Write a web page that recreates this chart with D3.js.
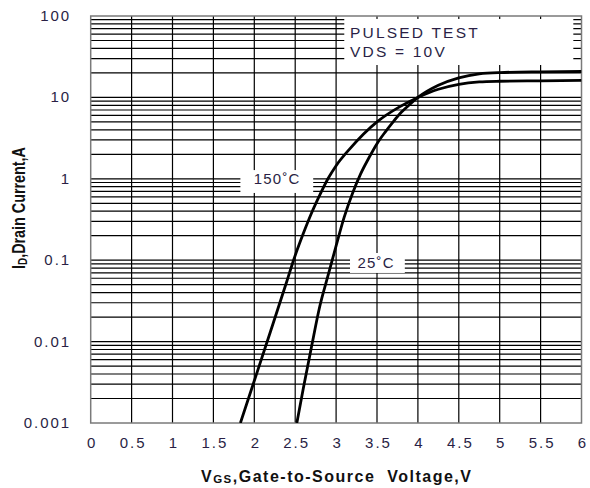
<!DOCTYPE html>
<html>
<head>
<meta charset="utf-8">
<script src="https://cdn.jsdelivr.net/npm/d3@7"></script>
<style>
  html, body { margin: 0; padding: 0; background: #fff; }
  svg { display: block; }
  text { font-family: "Liberation Sans", Arial, Helvetica, sans-serif; }
</style>
</head>
<body>
<svg id="chart" width="590" height="488"></svg>
<script>
// Transfer characteristics: drain current vs gate-source voltage
const vgsTicks = [0, 0.5, 1, 1.5, 2, 2.5, 3, 3.5, 4, 4.5, 5, 5.5, 6];
const vgsTickLabels = ["0", "0.5", "1", "1.5", "2", "2.5", "3", "3.5", "4", "4.5", "5", "5.5", "6"];
const idTicks = [100, 10, 1, 0.1, 0.01, 0.001];
const idTickLabels = ["100", "10", "1", "0.1", "0.01", "0.001"];

// Tj = 150 °C
const vgs150 = [1.83, 2.0, 2.2, 2.4, 2.48, 2.6, 2.7, 2.8, 2.9, 3.0, 3.17, 3.5, 3.78, 4.0, 4.25, 4.5, 4.75, 5.0, 5.5, 6.0];
const id150  = [0.001, 0.0033, 0.0135, 0.056, 0.1, 0.214, 0.38, 0.63, 1.0, 1.45, 2.35, 5.0, 7.7, 10.0, 12.6, 14.5, 15.5, 15.8, 16.0, 16.2];

// Tj = 25 °C
const vgs25 = [2.52, 2.6, 2.7, 2.8, 2.9, 3.0, 3.1, 3.2, 3.3, 3.4, 3.5, 3.6, 3.7, 3.8, 3.9, 4.0, 4.25, 4.5, 4.75, 5.0, 5.5, 6.0];
const id25  = [0.001, 0.0027, 0.0087, 0.027, 0.064, 0.15, 0.34, 0.66, 1.15, 1.8, 2.7, 3.75, 5.05, 6.6, 8.2, 10.0, 14.1, 17.4, 19.5, 20.2, 20.6, 20.8];

const curveNames = ["150˚C", "25˚C"];
const noteLines = ["PULSED TEST", "VDS =  10V"];

const svg = d3.select("#chart");
const plotL = 90.7, plotR = 581.5, plotT = 16, plotB = 423;

const x = d3.scaleLinear().domain([0, 6]).range([plotL, plotR]);
const y = d3.scaleLog().domain([0.001, 100]).range([plotB, plotT]);

const textColor = "#2a1f45";

// grid
const grid = svg.append("g").attr("stroke", "#000").attr("stroke-width", 1.2);
const vLines = vgsTicks.filter(v => v > 0 && v < 6);
grid.selectAll("line.v").data(vLines).join("line")
  .attr("x1", d => x(d)).attr("x2", d => x(d))
  .attr("y1", plotT).attr("y2", plotB);

const hLines = [];
[0.001, 0.01, 0.1, 1, 10].forEach(dec => {
  for (let k = 1; k <= 9; k++) {
    const v = dec * k;
    if (v > 0.001 + 1e-9) hLines.push(v);
  }
});
grid.selectAll("line.h").data(hLines).join("line")
  .attr("x1", plotL).attr("x2", plotR)
  .attr("y1", d => y(d)).attr("y2", d => y(d));

// white label backgrounds
const bg = svg.append("g").attr("fill", "#fff");
bg.append("rect")
  .attr("x", x(3.1)).attr("y", y(92))
  .attr("width", x(5.9) - x(3.1)).attr("height", y(25) - y(92));
bg.append("rect")
  .attr("x", x(1.83)).attr("y", y(1.28))
  .attr("width", x(2.72) - x(1.83)).attr("height", y(0.67) - y(1.28));
bg.append("rect")
  .attr("x", x(3.17)).attr("y", y(0.1226))
  .attr("width", x(3.84) - x(3.17)).attr("height", y(0.0697) - y(0.1226));

// frame
svg.append("rect")
  .attr("x", plotL).attr("y", plotT)
  .attr("width", plotR - plotL).attr("height", plotB - plotT)
  .attr("fill", "none").attr("stroke", "#7a7a7a").attr("stroke-width", 1.5);

// curves
svg.append("clipPath").attr("id", "plot")
  .append("rect").attr("x", plotL).attr("y", plotT)
  .attr("width", plotR - plotL).attr("height", plotB - plotT);

const line = d3.line()
  .x(d => x(d[0])).y(d => y(d[1]))
  .curve(d3.curveMonotoneX);

const series = [d3.zip(vgs150, id150), d3.zip(vgs25, id25)];
svg.append("g").attr("clip-path", "url(#plot)")
  .selectAll("path").data(series).join("path")
  .attr("d", line)
  .attr("fill", "none").attr("stroke", "#000")
  .attr("stroke-width", 2.8).attr("stroke-linejoin", "round");

// axes
const yAxis = d3.axisLeft(y).tickValues(idTicks)
  .tickFormat((d, i) => idTickLabels[i]).tickSize(0).tickPadding(19.5);
const gy = svg.append("g").attr("transform", `translate(${plotL},0)`).call(yAxis);
gy.select(".domain").remove();
gy.selectAll("text").attr("font-size", 15).attr("letter-spacing", "2px")
  .attr("fill", textColor).attr("dy", "0.3em")
  .attr("font-family", "'Liberation Sans', Arial, sans-serif");

const xAxis = d3.axisBottom(x).tickValues(vgsTicks)
  .tickFormat((d, i) => vgsTickLabels[i]).tickSize(0).tickPadding(14.5);
const gx = svg.append("g").attr("transform", `translate(0,${plotB})`).call(xAxis);
gx.select(".domain").remove();
gx.selectAll("text").attr("font-size", 15).attr("letter-spacing", "2px")
  .attr("fill", textColor).attr("dx", "1px")
  .attr("font-family", "'Liberation Sans', Arial, sans-serif");

// note text
const note = svg.append("g").attr("fill", textColor).attr("font-size", 15.5).attr("letter-spacing", "2.2px");
note.append("text").attr("x", x(3.17)).attr("y", 37.5).text(noteLines[0]);
note.append("text").attr("x", x(3.17)).attr("y", 56.5).text(noteLines[1]);

// curve labels
const lbl = svg.append("g").attr("fill", textColor).attr("font-size", 15)
  .attr("letter-spacing", "1.2px").attr("text-anchor", "middle").attr("dominant-baseline", "central");
lbl.append("text").attr("x", x(2.28)).attr("y", y(1)).text(curveNames[0]);
lbl.append("text").attr("x", x(3.49)).attr("y", y(0.095)).text(curveNames[1]);

// axis titles
const xt = svg.append("text")
  .attr("x", 201).attr("y", 481.5)
  .attr("font-size", 16).attr("font-weight", "bold").attr("letter-spacing", "1.5px")
  .attr("fill", "#111");
xt.append("tspan").text("V");
xt.append("tspan").attr("font-size", 11.5).attr("dy", 1).text("GS");
xt.append("tspan").attr("dy", -1).text(",Gate-to-Source\u00a0\u00a0Voltage,V");

const yt = svg.append("text")
  .attr("transform", "translate(25,208) rotate(-90) scale(0.82,1)")
  .attr("text-anchor", "middle")
  .attr("font-size", 17.5).attr("font-weight", "bold")
  .attr("fill", "#111");
yt.append("tspan").text("I");
yt.append("tspan").attr("font-size", 12).attr("dy", 2).text("D");
yt.append("tspan").attr("dy", -2).text(",Drain Current,A");
</script>
</body>
</html>
